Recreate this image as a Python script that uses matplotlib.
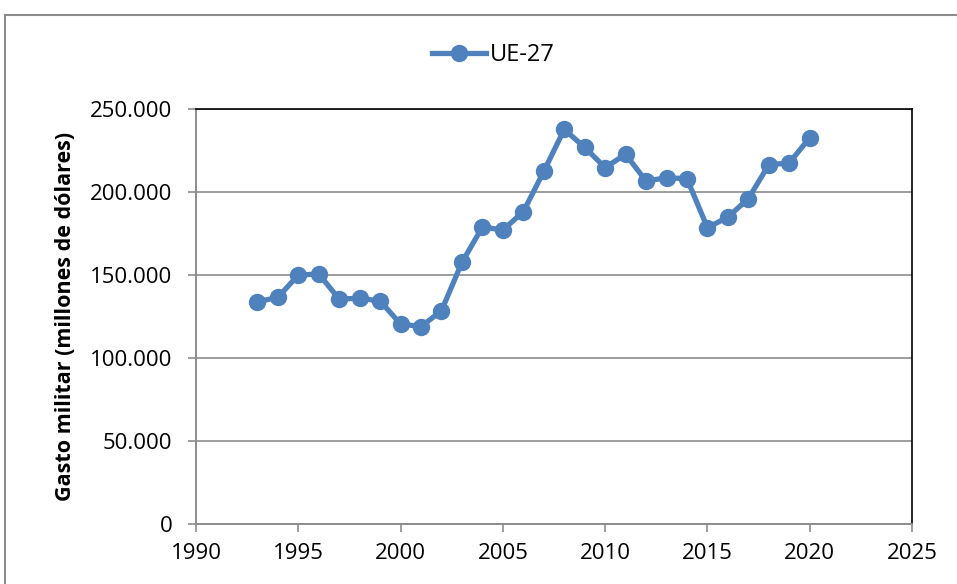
import matplotlib.pyplot as plt
from matplotlib.lines import Line2D
from matplotlib.ticker import FuncFormatter

plt.rcParams.update({'font.family': ['Open Sans', 'DejaVu Sans'], 'font.size': 16})

years = list(range(1993, 2021))
gasto = [133900, 136500, 150000, 150600, 135500, 136000, 134300, 120500,
         118900, 128500, 157600, 178900, 177100, 188100, 212400, 237700,
         226900, 214700, 222700, 206600, 208600, 208000, 178500, 184900,
         196000, 216400, 217500, 232700]
serie = 'UE-27'
ylabel = 'Gasto militar (millones de dólares)'

fig = plt.figure(figsize=(9.57, 5.84), dpi=100)
ax = fig.add_axes([196/957, 1 - 524/584, (912 - 196)/957, (524 - 109)/584])

ax.plot(years, gasto, '-o', color='#4F81BD', lw=3.8, ms=11.5, label=serie)

ax.set_xlim(1990, 2025)
ax.set_ylim(0, 250000)
ax.set_xticks(range(1990, 2026, 5))
ax.set_yticks(range(0, 250001, 50000))
ax.yaxis.set_major_formatter(FuncFormatter(lambda v, p: f'{int(v):,}'.replace(',', '.')))
ax.grid(axis='y', color='#8C8C8C', lw=1.2)
ax.set_axisbelow(True)
ax.tick_params(direction='out', length=6, color='#8C8C8C', width=1.2)
ax.tick_params(axis='x', pad=8)
ax.tick_params(axis='y', pad=11)

for s in ['left', 'bottom']:
    ax.spines[s].set_color('#8C8C8C')
    ax.spines[s].set_linewidth(1.4)
for s in ['top', 'right']:
    ax.spines[s].set_color('black')
    ax.spines[s].set_linewidth(1.2)

ax.set_ylabel(ylabel, fontweight='bold', fontsize=15.5, labelpad=10)
ax.legend(loc='center', bbox_to_anchor=(493/957, 1 - 55/584), bbox_transform=fig.transFigure,
          frameon=False, handlelength=2.3, handletextpad=0.15, fontsize=17)

# outer chart frame
fig.add_artist(Line2D([5/957, 5/957], [0, 1 - 15/584], color='#8C8C8C', lw=1.5))
fig.add_artist(Line2D([5/957, 1], [1 - 15/584, 1 - 15/584], color='#8C8C8C', lw=1.5))

fig.savefig('out.png', dpi=100)
